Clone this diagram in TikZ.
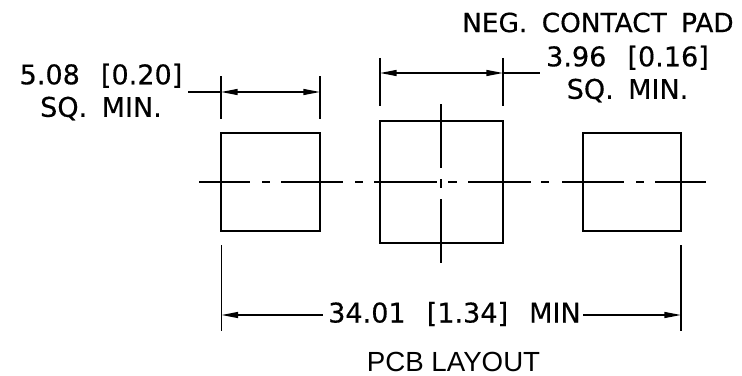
\documentclass[tikz,border=0pt]{standalone}
\usepackage{fontspec}
\setmainfont[FakeBold=0.4]{DejaVu Sans}
\newfontfamily\captionfont{Liberation Sans}
\usetikzlibrary{arrows.meta}
\newcommand{\gapw}{\hspace{12pt}}
\newcommand{\gapn}{\hspace{8.2pt}}
\tikzset{
dimtip/.tip={Triangle[length=9.5pt,width=3.4pt]},
thinline/.style={line width=0.85pt},
dimline/.style={thinline,dimtip-dimtip},
padline/.style={line width=1pt},
label/.style={inner sep=0pt,font=\fontsize{15.4}{18.5}\selectfont,align=center},
}
\begin{document}
\begin{tikzpicture}[x=0.02cm,y=-0.02cm]
\useasboundingbox(0,0)rectangle(742,375);
% pads
\draw[padline](221,133)rectangle(320,231);
\draw[padline](380,121)rectangle(503,243);
\draw[padline](583,133)rectangle(681,231);
% center lines
\foreach \a/\b in {199/250,262/270,281/343,355/363,374/437,448/457,468/531,541/549,562/624,636/644,655/706}
\draw[thinline](\a,182)--(\b,182);
\draw[thinline](441,104)--(441,168);
\draw[thinline](441,179)--(441,188);
\draw[thinline](441,199)--(441,263);
% extension lines
\foreach \x in {221,320}
\draw[thinline](\x,76)--(\x,119);
\foreach \x in {380,503}
\draw[thinline](\x,58)--(\x,106);
\foreach \x in {221.5,681}
\draw[thinline](\x,245)--(\x,331);
% labels
\node[label](lblleft)at(101,92){5.08\gapw[0.20]\\SQ.\gapn MIN.};
\node[label,font=\fontsize{15}{18.5}\selectfont,anchor=east](lblneg)at(734,22.5){NEG.\gapn CONTACT\gapn PAD};
\node[label](lblright)at(627.5,74){3.96\gapw[0.16]\\SQ.\gapn MIN.};
\node[label](lblbottom)at(454.5,314){34.01\gapw[1.34]\gapw MIN};
\node[inner sep=0pt,font=\captionfont\fontsize{15.75}{18}\selectfont](lblpcb)at(453.5,362){PCB LAYOUT};
% dimensions
\coordinate(leftleader)at(188,92);
\coordinate(rightleader)at(540,73);
\coordinate(bottomleft)at(323,315);
\coordinate(bottomright)at(583,315);
\draw[dimline](221,92)--(320,92);
\draw[thinline](leftleader)--(221,92);
\draw[dimline](380,73)--(503,73);
\draw[thinline](503,73)--(rightleader);
\draw[thinline,dimtip-](221.5,315)--(bottomleft);
\draw[thinline,-dimtip](bottomright)--(681,315);
\end{tikzpicture}
\end{document}
